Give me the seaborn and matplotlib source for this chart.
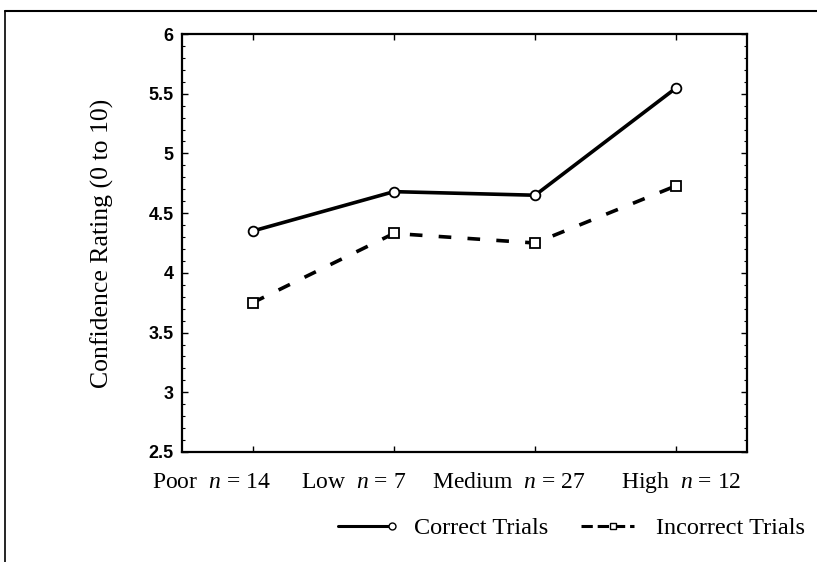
import matplotlib
matplotlib.use("Agg")
import matplotlib.pyplot as plt
import seaborn as sns
import pandas as pd
from matplotlib.ticker import MultipleLocator
from matplotlib.lines import Line2D
from matplotlib.legend_handler import HandlerBase

categories = ["Poor", "Low", "Medium", "High"]
n_values = [14, 7, 27, 12]
correct = [4.35, 4.68, 4.65, 5.55]
incorrect = [3.75, 4.33, 4.25, 4.73]
series_names = ["Correct Trials", "Incorrect Trials"]
y_label = "Confidence Rating (0 to 10)"

df = pd.DataFrame({
    "cat": categories * 2,
    "value": correct + incorrect,
    "trial": [series_names[0]] * 4 + [series_names[1]] * 4,
})

sns.set_theme(style="white")
plt.rcParams["mathtext.fontset"] = "custom"
plt.rcParams["mathtext.it"] = "Liberation Serif:italic"
plt.rcParams["mathtext.rm"] = "Liberation Serif"
plt.rcParams["text.color"] = "black"
plt.rcParams["axes.labelcolor"] = "black"

fig = plt.figure(figsize=(8.17, 5.62), dpi=100)
ax = fig.add_axes([182/817, 1-452/562, (747-182)/817, (452-34)/562])

DASH = (3.5, 4.5)
sns.lineplot(data=df, x="cat", y="value", style="trial", color="black",
             markers=["o", "s"], dashes=["", DASH], linewidth=2.6,
             markersize=7, markerfacecolor="white", markeredgecolor="black",
             markeredgewidth=1.3, ax=ax, legend=False, sort=False)

ax.set_xlim(-0.5, 3.5)
ax.set_ylim(2.5, 6)
ax.yaxis.set_major_locator(MultipleLocator(0.5))
ax.yaxis.set_minor_locator(MultipleLocator(0.1))
ax.set_xticks(range(len(categories)))
ax.set_xticklabels([])
# category labels: spread evenly below the axis (as in the original), baseline aligned
offsets_px = [-41, -40, -26, 5]
for i, (c, n, dx) in enumerate(zip(categories, n_values, offsets_px)):
    ax.annotate(f"{c}  $\\it{{n}}$ = {n}", xy=(i, 0), xycoords=ax.get_xaxis_transform(),
                xytext=(dx, -36), textcoords="offset pixels", ha="center", va="baseline",
                fontfamily="Liberation Serif", fontsize=17, color="black",
                annotation_clip=False)
ax.set_yticklabels([f"{v:g}" for v in ax.get_yticks()],
                   fontfamily="Liberation Sans", fontweight="bold", fontsize=13, color="black")
ax.tick_params(which="both", direction="in", top=True, right=True, bottom=True, left=True,
               colors="black")
ax.tick_params(which="major", length=4, width=1.0, pad=6)
ax.tick_params(which="minor", length=2, width=0.8)
ax.set_xlabel("")
ax.set_ylabel(y_label, fontfamily="Liberation Serif", fontsize=18.5, labelpad=25, color="black")
for s in ax.spines.values():
    s.set_color("black")
    s.set_linewidth(1.6)


class LineMarkerHandler(HandlerBase):
    def __init__(self, frac, **kw):
        super().__init__(**kw)
        self.frac = frac

    def create_artists(self, legend, orig, xdescent, ydescent, width, height, fontsize, trans):
        y = height / 2 - ydescent
        line = Line2D([-xdescent, width - xdescent], [y, y], color="black",
                      lw=orig.get_linewidth(), ls=orig.get_linestyle())
        mk = Line2D([-xdescent + self.frac * width], [y], ls="", marker=orig.get_marker(),
                    markersize=orig.get_markersize(), markerfacecolor="white",
                    markeredgecolor="black", markeredgewidth=1.0)
        line.set_transform(trans)
        mk.set_transform(trans)
        return [line, mk]


h_correct = Line2D([], [], color="black", lw=2.2, ls="-", marker="o", markersize=5)
h_incorrect = Line2D([], [], color="black", lw=2.2, ls=(0, (2.4, 2.0)), marker="s", markersize=5)
leg = fig.legend([h_correct, h_incorrect], series_names, loc="center right",
                 bbox_to_anchor=(1.012, 1-528/562), ncol=2, frameon=False,
                 prop={"family": "Liberation Serif", "size": 17.5},
                 handlelength=2.2, columnspacing=1.35, handletextpad=0.9,
                 handler_map={h_correct: LineMarkerHandler(1.0),
                              h_incorrect: LineMarkerHandler(0.6)})
for t in leg.get_texts():
    t.set_color("black")

# page frame lines
fig.add_artist(Line2D([5/817, 5/817], [0, 1-11/562], transform=fig.transFigure, color="black", lw=1.2))
fig.add_artist(Line2D([5/817, 1], [1-11/562, 1-11/562], transform=fig.transFigure, color="black", lw=1.5))

fig.savefig("out.png", dpi=100)
